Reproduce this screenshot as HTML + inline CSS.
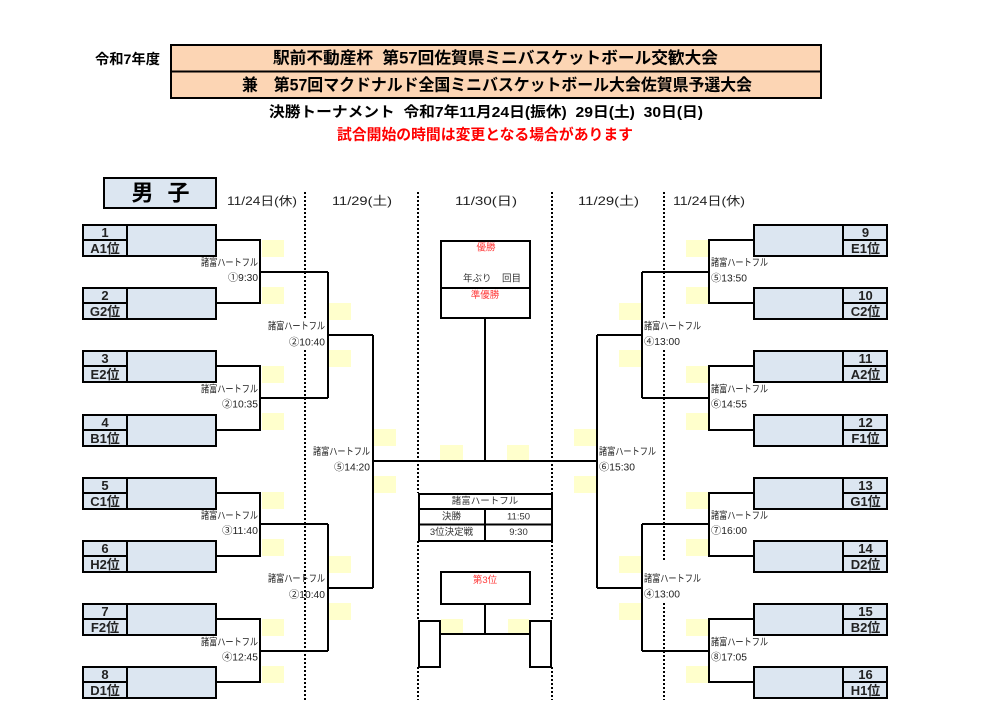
<!DOCTYPE html>
<html><head><meta charset="utf-8">
<style>
html,body{margin:0;padding:0;background:#fff;}
svg{display:block;}
text{font-family:"Liberation Sans","Noto Sans CJK JP",sans-serif;dominant-baseline:central;fill:#222;}
.b{font-weight:bold;fill:#000;}
.v{font-size:10px;}
.d{font-size:12px;}
.r{fill:#ff3b3b;font-size:9.5px;}
.s{font-size:9.5px;fill:#333;}
.ln{fill:none;stroke:#000;stroke-width:2;stroke-linejoin:miter;}
.dt{stroke:#000;stroke-width:2;stroke-dasharray:2,2;}
.box{fill:#dce6f1;stroke:#000;stroke-width:2;}
.y{fill:#ffffcc;}
</style></head>
<body>
<svg width="983" height="721" viewBox="0 0 983 721" xmlns="http://www.w3.org/2000/svg">
<!-- Header -->
<text x="95" y="59" class="b" font-size="14" textLength="65" lengthAdjust="spacingAndGlyphs">令和7年度</text>
<rect x="171" y="45" width="650" height="53" fill="#fcd5b4" stroke="#000" stroke-width="2"/>
<line x1="171" y1="71.5" x2="821" y2="71.5" stroke="#000" stroke-width="2"/>
<text x="273" y="58.5" class="b" font-size="16.5" textLength="445" lengthAdjust="spacingAndGlyphs">駅前不動産杯&#160;&#160;第57回佐賀県ミニバスケットボール交歓大会</text>
<text x="242" y="85.5" class="b" font-size="16.5" textLength="510" lengthAdjust="spacingAndGlyphs">兼　第57回マクドナルド全国ミニバスケットボール大会佐賀県予選大会</text>
<text x="269" y="113" class="b" font-size="14.5" textLength="434" lengthAdjust="spacingAndGlyphs">決勝トーナメント&#160;&#160;令和7年11月24日(振休)&#160;&#160;29日(土)&#160;&#160;30日(日)</text>
<text x="337" y="135" class="b" font-size="15" style="fill:#ff0000" textLength="296" lengthAdjust="spacingAndGlyphs">試合開始の時間は変更となる場合があります</text>

<!-- 男子 -->
<rect x="104" y="178" width="112" height="30" class="box"/>
<text x="142.5" y="193" class="b" font-size="22" text-anchor="middle">男</text>
<text x="178.5" y="193" class="b" font-size="22" text-anchor="middle">子</text>

<!-- Date labels -->
<text x="227" y="201" class="d" textLength="70" lengthAdjust="spacingAndGlyphs">11/24日(休)</text>
<text x="332" y="201" class="d" textLength="60" lengthAdjust="spacingAndGlyphs">11/29(土)</text>
<text x="455" y="201" class="d" textLength="62" lengthAdjust="spacingAndGlyphs">11/30(日)</text>
<text x="578" y="201" class="d" textLength="61" lengthAdjust="spacingAndGlyphs">11/29(土)</text>
<text x="673" y="201" class="d" textLength="72" lengthAdjust="spacingAndGlyphs">11/24日(休)</text>

<!-- Dotted lines -->
<line x1="305" y1="192" x2="305" y2="320" class="dt"/>
<line x1="305" y1="350" x2="305" y2="700" class="dt"/>
<line x1="664" y1="192" x2="664" y2="320" class="dt"/>
<line x1="664" y1="350" x2="664" y2="560" class="dt"/>
<line x1="664" y1="603" x2="664" y2="700" class="dt"/>
<line x1="418" y1="192" x2="418" y2="493" class="dt"/>
<line x1="418" y1="541" x2="418" y2="620" class="dt"/>
<line x1="418" y1="667" x2="418" y2="700" class="dt"/>
<line x1="552" y1="192" x2="552" y2="493" class="dt"/>
<line x1="552" y1="541" x2="552" y2="620" class="dt"/>
<line x1="552" y1="667" x2="552" y2="700" class="dt"/>

<!-- Yellow cells -->
<g class="y">
<rect x="262" y="240" width="22" height="17"/><rect x="262" y="287" width="22" height="17"/>
<rect x="262" y="366" width="22" height="17"/><rect x="262" y="413" width="22" height="17"/>
<rect x="262" y="492" width="22" height="17"/><rect x="262" y="539" width="22" height="17"/>
<rect x="262" y="619" width="22" height="17"/><rect x="262" y="666" width="22" height="17"/>
<rect x="329" y="303" width="22" height="17"/><rect x="329" y="350" width="22" height="17"/>
<rect x="329" y="556" width="22" height="17"/><rect x="329" y="603" width="22" height="17"/>
<rect x="374" y="429" width="22" height="17"/><rect x="374" y="476" width="22" height="17"/>
<rect x="686" y="240" width="22" height="17"/><rect x="686" y="287" width="22" height="17"/>
<rect x="686" y="366" width="22" height="17"/><rect x="686" y="413" width="22" height="17"/>
<rect x="686" y="492" width="22" height="17"/><rect x="686" y="539" width="22" height="17"/>
<rect x="686" y="619" width="22" height="17"/><rect x="686" y="666" width="22" height="17"/>
<rect x="619" y="303" width="22" height="17"/><rect x="619" y="350" width="22" height="17"/>
<rect x="619" y="556" width="22" height="17"/><rect x="619" y="603" width="22" height="17"/>
<rect x="574" y="429" width="22" height="17"/><rect x="574" y="476" width="22" height="17"/>
<rect x="440" y="445" width="23" height="16"/><rect x="507" y="445" width="22" height="16"/>
<rect x="441" y="619" width="22" height="15"/><rect x="508" y="619" width="21" height="15"/>
</g>

<!-- Left bracket lines -->
<path class="ln" d="M217 240H260V303H217 M260 272H328 M217 366H260V430H217 M260 398H328
M217 493H260V556H217 M260 524H328 M217 619H260V682H217 M260 651H328
M328 272V398 M328 335H373 M328 524V651 M328 588H373
M373 335V588 M373 461H597"/>
<!-- Right bracket lines -->
<path class="ln" d="M753 240H709V303H753 M709 272H642 M753 366H709V430H753 M709 398H642
M753 493H709V556H753 M709 524H642 M753 619H709V682H753 M709 651H642
M642 272V398 M642 335H597 M642 524V651 M642 588H597
M597 335V588"/>
<!-- Center -->
<path class="ln" d="M485 318V461"/>

<!-- Final box -->
<rect x="441" y="241" width="89" height="77" fill="#fff" stroke="#000" stroke-width="2"/>
<line x1="441" y1="288" x2="530" y2="288" stroke="#000" stroke-width="2"/>
<text x="486" y="248" class="r" text-anchor="middle">優勝</text>
<text x="463" y="279" class="s">年ぶり</text>
<text x="502" y="279" class="s">回目</text>
<text x="485" y="295.5" class="r" text-anchor="middle">準優勝</text>

<!-- Schedule table -->
<rect x="419" y="494" width="133" height="47" fill="#fff" stroke="#000" stroke-width="2"/>
<line x1="419" y1="509" x2="552" y2="509" stroke="#000" stroke-width="2"/>
<line x1="419" y1="524.5" x2="552" y2="524.5" stroke="#000" stroke-width="2"/>
<line x1="485" y1="509" x2="485" y2="541" stroke="#000" stroke-width="2"/>
<text x="485" y="501.5" class="s" text-anchor="middle">諸富ハートフル</text>
<text x="451.5" y="517" class="s" text-anchor="middle">決勝</text>
<text x="518.5" y="517" class="s" text-anchor="middle">11:50</text>
<text x="451.5" y="532.5" class="s" text-anchor="middle">3位決定戦</text>
<text x="518.5" y="532.5" class="s" text-anchor="middle">9:30</text>

<!-- Third place -->
<rect x="441" y="572" width="89" height="32" fill="#fff" stroke="#000" stroke-width="2"/>
<text x="485" y="580.5" class="r" text-anchor="middle">第3位</text>
<path class="ln" d="M485 604V634 M440 634H530"/>
<rect x="419" y="621" width="21" height="46" fill="none" stroke="#000" stroke-width="2"/>
<rect x="530" y="621" width="21" height="46" fill="none" stroke="#000" stroke-width="2"/>

<!-- Left team boxes -->
<g>
<rect x="83" y="225" width="133" height="31" class="box"/><line x1="127" y1="225" x2="127" y2="256" stroke="#000" stroke-width="2"/><line x1="83" y1="240" x2="127" y2="240" stroke="#000" stroke-width="2"/>
<rect x="83" y="288" width="133" height="31" class="box"/><line x1="127" y1="288" x2="127" y2="319" stroke="#000" stroke-width="2"/><line x1="83" y1="303" x2="127" y2="303" stroke="#000" stroke-width="2"/>
<rect x="83" y="351" width="133" height="31" class="box"/><line x1="127" y1="351" x2="127" y2="382" stroke="#000" stroke-width="2"/><line x1="83" y1="366" x2="127" y2="366" stroke="#000" stroke-width="2"/>
<rect x="83" y="415" width="133" height="31" class="box"/><line x1="127" y1="415" x2="127" y2="446" stroke="#000" stroke-width="2"/><line x1="83" y1="430" x2="127" y2="430" stroke="#000" stroke-width="2"/>
<rect x="83" y="478" width="133" height="31" class="box"/><line x1="127" y1="478" x2="127" y2="509" stroke="#000" stroke-width="2"/><line x1="83" y1="493" x2="127" y2="493" stroke="#000" stroke-width="2"/>
<rect x="83" y="541" width="133" height="31" class="box"/><line x1="127" y1="541" x2="127" y2="572" stroke="#000" stroke-width="2"/><line x1="83" y1="556" x2="127" y2="556" stroke="#000" stroke-width="2"/>
<rect x="83" y="604" width="133" height="31" class="box"/><line x1="127" y1="604" x2="127" y2="635" stroke="#000" stroke-width="2"/><line x1="83" y1="619" x2="127" y2="619" stroke="#000" stroke-width="2"/>
<rect x="83" y="667" width="133" height="31" class="box"/><line x1="127" y1="667" x2="127" y2="698" stroke="#000" stroke-width="2"/><line x1="83" y1="682" x2="127" y2="682" stroke="#000" stroke-width="2"/>
</g>
<g class="b" font-size="13" text-anchor="middle">
<text x="105" y="232.5">1</text><text x="105" y="248.5">A1位</text>
<text x="105" y="295.5">2</text><text x="105" y="311.5">G2位</text>
<text x="105" y="358.5">3</text><text x="105" y="374.5">E2位</text>
<text x="105" y="422.5">4</text><text x="105" y="438.5">B1位</text>
<text x="105" y="485.5">5</text><text x="105" y="501.5">C1位</text>
<text x="105" y="548.5">6</text><text x="105" y="564.5">H2位</text>
<text x="105" y="611.5">7</text><text x="105" y="627.5">F2位</text>
<text x="105" y="674.5">8</text><text x="105" y="690.5">D1位</text>
</g>

<!-- Right team boxes -->
<g>
<rect x="754" y="225" width="133" height="31" class="box"/><line x1="843" y1="225" x2="843" y2="256" stroke="#000" stroke-width="2"/><line x1="843" y1="240" x2="887" y2="240" stroke="#000" stroke-width="2"/>
<rect x="754" y="288" width="133" height="31" class="box"/><line x1="843" y1="288" x2="843" y2="319" stroke="#000" stroke-width="2"/><line x1="843" y1="303" x2="887" y2="303" stroke="#000" stroke-width="2"/>
<rect x="754" y="351" width="133" height="31" class="box"/><line x1="843" y1="351" x2="843" y2="382" stroke="#000" stroke-width="2"/><line x1="843" y1="366" x2="887" y2="366" stroke="#000" stroke-width="2"/>
<rect x="754" y="415" width="133" height="31" class="box"/><line x1="843" y1="415" x2="843" y2="446" stroke="#000" stroke-width="2"/><line x1="843" y1="430" x2="887" y2="430" stroke="#000" stroke-width="2"/>
<rect x="754" y="478" width="133" height="31" class="box"/><line x1="843" y1="478" x2="843" y2="509" stroke="#000" stroke-width="2"/><line x1="843" y1="493" x2="887" y2="493" stroke="#000" stroke-width="2"/>
<rect x="754" y="541" width="133" height="31" class="box"/><line x1="843" y1="541" x2="843" y2="572" stroke="#000" stroke-width="2"/><line x1="843" y1="556" x2="887" y2="556" stroke="#000" stroke-width="2"/>
<rect x="754" y="604" width="133" height="31" class="box"/><line x1="843" y1="604" x2="843" y2="635" stroke="#000" stroke-width="2"/><line x1="843" y1="619" x2="887" y2="619" stroke="#000" stroke-width="2"/>
<rect x="754" y="667" width="133" height="31" class="box"/><line x1="843" y1="667" x2="843" y2="698" stroke="#000" stroke-width="2"/><line x1="843" y1="682" x2="887" y2="682" stroke="#000" stroke-width="2"/>
</g>
<g class="b" font-size="13" text-anchor="middle">
<text x="865.5" y="232.5">9</text><text x="865.5" y="248.5">E1位</text>
<text x="865.5" y="295.5">10</text><text x="865.5" y="311.5">C2位</text>
<text x="865.5" y="358.5">11</text><text x="865.5" y="374.5">A2位</text>
<text x="865.5" y="422.5">12</text><text x="865.5" y="438.5">F1位</text>
<text x="865.5" y="485.5">13</text><text x="865.5" y="501.5">G1位</text>
<text x="865.5" y="548.5">14</text><text x="865.5" y="564.5">D2位</text>
<text x="865.5" y="611.5">15</text><text x="865.5" y="627.5">B2位</text>
<text x="865.5" y="674.5">16</text><text x="865.5" y="690.5">H1位</text>
</g>

<!-- Match labels left -->
<g class="v">
<text x="201" y="263.5" textLength="57" lengthAdjust="spacingAndGlyphs">諸富ハートフル</text>
<text x="228" y="278.5" textLength="30" lengthAdjust="spacingAndGlyphs">①9:30</text>
<text x="201" y="390" textLength="57" lengthAdjust="spacingAndGlyphs">諸富ハートフル</text>
<text x="222" y="405" textLength="36" lengthAdjust="spacingAndGlyphs">②10:35</text>
<text x="201" y="516.5" textLength="57" lengthAdjust="spacingAndGlyphs">諸富ハートフル</text>
<text x="222" y="531.5" textLength="36" lengthAdjust="spacingAndGlyphs">③11:40</text>
<text x="201" y="643" textLength="57" lengthAdjust="spacingAndGlyphs">諸富ハートフル</text>
<text x="222" y="658" textLength="36" lengthAdjust="spacingAndGlyphs">④12:45</text>
<text x="268" y="327" textLength="57" lengthAdjust="spacingAndGlyphs">諸富ハートフル</text>
<text x="289" y="343" textLength="36" lengthAdjust="spacingAndGlyphs">②10:40</text>
<text x="268" y="579.5" textLength="57" lengthAdjust="spacingAndGlyphs">諸富ハートフル</text>
<text x="289" y="595.5" textLength="36" lengthAdjust="spacingAndGlyphs">②10:40</text>
<text x="313" y="452.5" textLength="57" lengthAdjust="spacingAndGlyphs">諸富ハートフル</text>
<text x="334" y="468" textLength="36" lengthAdjust="spacingAndGlyphs">⑤14:20</text>
</g>
<!-- Match labels right -->
<g class="v">
<text x="711" y="263.5" textLength="57" lengthAdjust="spacingAndGlyphs">諸富ハートフル</text>
<text x="711" y="279" textLength="36" lengthAdjust="spacingAndGlyphs">⑤13:50</text>
<text x="711" y="390" textLength="57" lengthAdjust="spacingAndGlyphs">諸富ハートフル</text>
<text x="711" y="405" textLength="36" lengthAdjust="spacingAndGlyphs">⑥14:55</text>
<text x="711" y="516.5" textLength="57" lengthAdjust="spacingAndGlyphs">諸富ハートフル</text>
<text x="711" y="531.5" textLength="36" lengthAdjust="spacingAndGlyphs">⑦16:00</text>
<text x="711" y="643" textLength="57" lengthAdjust="spacingAndGlyphs">諸富ハートフル</text>
<text x="711" y="658" textLength="36" lengthAdjust="spacingAndGlyphs">⑧17:05</text>
<text x="644" y="327" textLength="57" lengthAdjust="spacingAndGlyphs">諸富ハートフル</text>
<text x="644" y="342.5" textLength="36" lengthAdjust="spacingAndGlyphs">④13:00</text>
<text x="644" y="579.5" textLength="57" lengthAdjust="spacingAndGlyphs">諸富ハートフル</text>
<text x="644" y="595" textLength="36" lengthAdjust="spacingAndGlyphs">④13:00</text>
<text x="599" y="452.5" textLength="57" lengthAdjust="spacingAndGlyphs">諸富ハートフル</text>
<text x="599" y="468" textLength="36" lengthAdjust="spacingAndGlyphs">⑥15:30</text>
</g>
</svg>
</body></html>
